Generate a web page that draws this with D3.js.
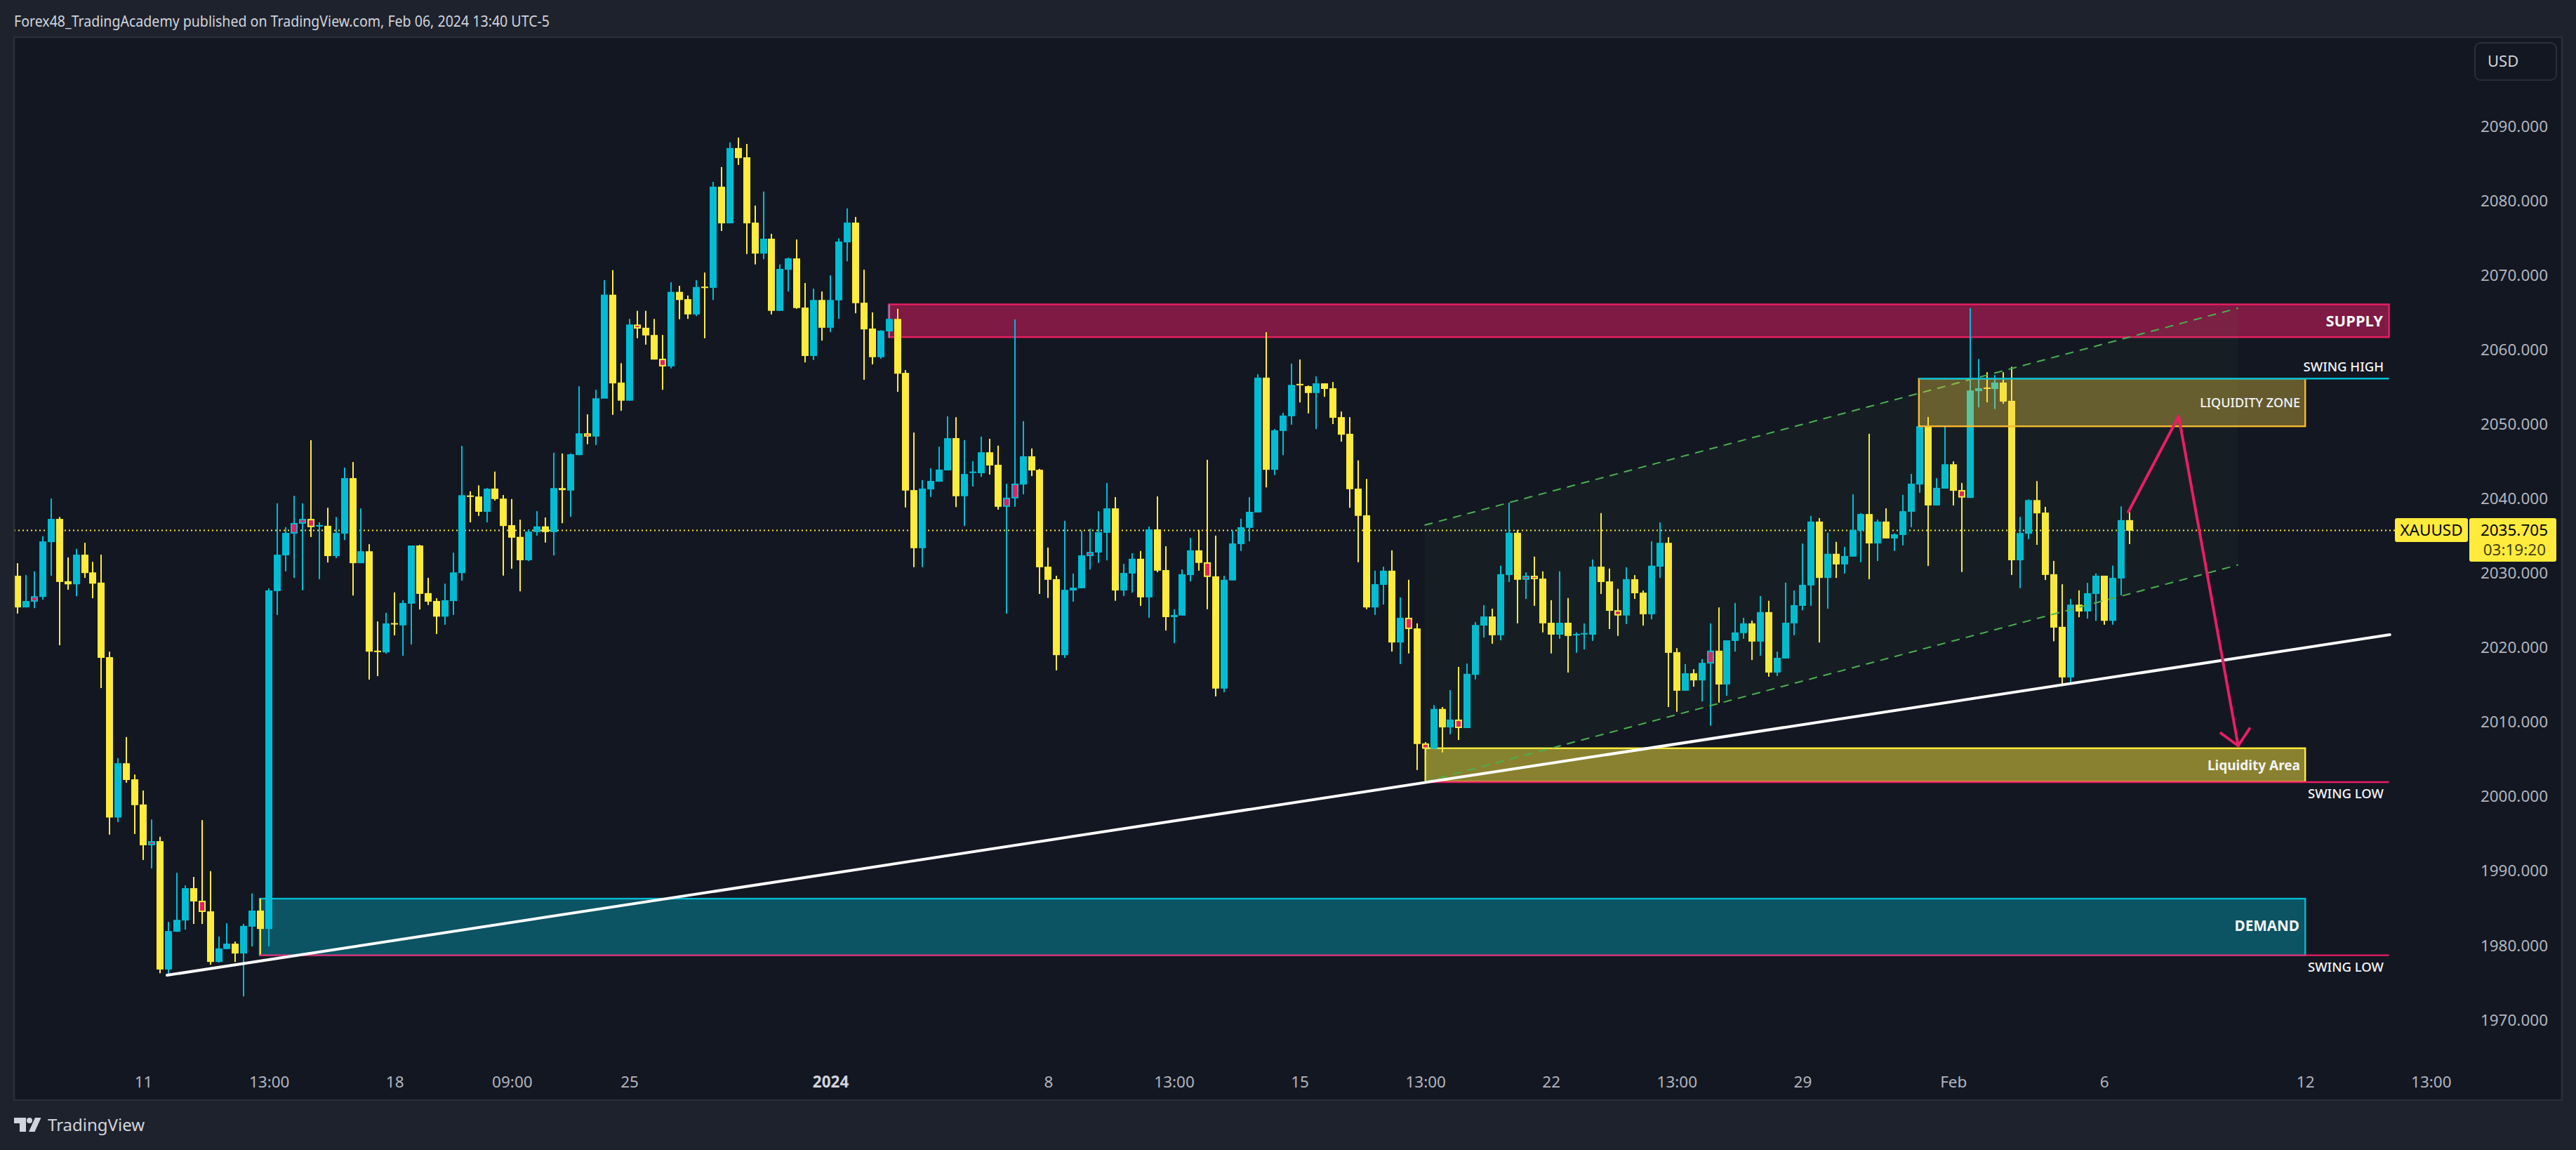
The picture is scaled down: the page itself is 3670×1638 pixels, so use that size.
<!DOCTYPE html>
<html>
<head>
<meta charset="utf-8">
<script src="https://cdn.jsdelivr.net/npm/d3@7.9.0/dist/d3.min.js"></script>
<style>
  html, body { margin: 0; padding: 0; background: #1e222d; }
  svg { display: block; }
  text { font-family: "Noto Sans", sans-serif; }
</style>
</head>
<body>
<script>
// 4h XAUUSD bars
const barOpen = [
  2029.66,2025.41,2026.18,2026.82,2034.18,2037.29,2028.92,2028.51,2032.49,2030.11,
  2028.74,2018.73,1997.2,2004.48,2002.33,1998.95,1993.47,1994.02,1976.79,1981.86,
  1983.37,1987.71,1986.02,1984.6,1977.8,1979.53,1980.26,1978.94,1982.55,1984.7,
  1982.23,2027.6,2032.4,2035.32,2036.65,2037.29,2036.37,2036.37,2032.3,2035.32,
  2042.77,2031.35,2032.95,2019.6,2019.37,2023.3,2023.0,2025.91,2033.72,2027.33,
  2026.27,2024.17,2026.27,2030.02,2040.44,2040.3,2038.25,2041.37,2040.02,2036.45,
  2034.88,2031.74,2035.53,2036.29,2035.53,2041.43,2041.1,2045.86,2048.78,2048.35,
  2053.44,2067.4,2055.6,2053.17,2063.39,2062.96,2061.99,2058.8,2057.77,2067.78,
  2066.8,2064.75,2068.48,2068.32,2081.9,2076.98,2087.09,2085.85,2077.08,2072.92,
  2074.92,2065.23,2070.75,2072.27,2065.67,2059.17,2066.69,2062.96,2066.64,2074.43,
  2077.08,2066.32,2062.85,2059.01,2062.47,2064.15,2056.9,2041.16,2033.36,2041.26,
  2042.29,2043.81,2048.14,2040.34,2043.48,2043.43,2046.24,2044.56,2038.92,2040.06,
  2041.91,2045.7,2043.89,2030.88,2029.2,2019.0,2027.68,2027.98,2032.31,2032.78,
  2035.43,2038.71,2027.68,2029.96,2031.94,2026.76,2035.89,2030.42,2024.11,2024.32,
  2029.75,2033.07,2031.47,2029.58,2014.51,2029.03,2033.91,2036.1,2038.16,2056.26,
  2043.89,2049.1,2051.08,2055.42,2055.12,2054.2,2055.5,2054.83,2050.96,2048.72,
  2041.36,2037.78,2025.41,2028.44,2030.34,2020.7,2024.02,2022.59,2007.15,2006.43,
  2011.78,2009.3,2010.35,2009.21,2016.36,2022.97,2024.19,2021.67,2029.75,2035.43,
  2029.12,2029.66,2029.28,2023.35,2021.75,2023.35,2021.71,2021.8,2021.75,2030.88,
  2028.9,2025.03,2024.32,2029.2,2027.39,2024.49,2030.88,2034.08,2019.4,2014.22,
  2016.57,2015.61,2017.88,2019.6,2015.06,2020.91,2021.96,2023.27,2020.82,2024.78,
  2016.66,2018.55,2023.27,2025.62,2028.36,2036.94,2029.37,2032.61,2031.18,2032.23,
  2035.72,2037.95,2034,2036.94,2034.67,2035.13,2038.25,2041.91,2049.73,2039.1,
  2041.36,2044.63,2041.17,2040.11,2054.45,2054.93,2054.73,2055.6,2053.15,2031.74,
  2035.3,2039.82,2038.14,2029.87,2022.8,2016.01,2025.78,2024.86,2027.22,2029.67,
  2023.61,2029.29,2037.13
];
const barHigh = [
  2031.35,2029.75,2030.25,2034.96,2040.03,2037.56,2032.12,2033.27,2034.09,2031.53,
  2032.49,2019.47,2005.17,2008.0,2002.97,2000.82,1996.94,1994.61,1983.19,1989.77,
  1988.08,1989.22,1996.85,1990,1981.22,1983,1980.54,1982.91,1987,1986.3,
  2027.97,2039.39,2036.19,2040.39,2039.39,2047.86,2036.83,2038.79,2037.56,2044.18,
  2044.93,2038.7,2033.9,2023.53,2024.68,2027.42,2026.37,2033.72,2033.81,2029.38,
  2026.64,2028.6,2032.76,2047.1,2041,2041.8,2041.44,2043.65,2040.5,2039.96,
  2037.2,2035.9,2038.34,2037.48,2046.19,2046.08,2046.08,2055.11,2051.33,2054.63,
  2069.35,2070.7,2058.2,2064.15,2065.23,2065.23,2064.15,2061.99,2069.07,2068.59,
  2067.29,2069.35,2070.37,2082.55,2084.55,2087.85,2088.5,2087.64,2079.36,2081.25,
  2075.57,2071.46,2072.38,2074.81,2068.97,2068.21,2067.83,2070,2074.97,2078.98,
  2077.84,2070.75,2065.02,2062.63,2066.05,2065.5,2057.28,2048.89,2042.51,2044.08,
  2047,2051.06,2050.95,2047.87,2045.05,2048.35,2048.05,2047.13,2042.03,2064.08,
  2050.41,2046.75,2044.01,2033.45,2029.66,2037.03,2029.96,2035.72,2035.97,2038.33,
  2042.12,2040.22,2031.26,2032.69,2032.99,2036.27,2040.31,2033.62,2025.16,2030.5,
  2034.75,2035.81,2045.23,2035.05,2029.66,2035.72,2037.32,2040.22,2056.72,2062.36,
  2049.36,2051.54,2058.15,2058.7,2055.21,2056.43,2055.5,2055.67,2051.71,2050.96,
  2045.15,2042.66,2030.34,2030.88,2033.07,2026.76,2029.12,2023.27,2007.32,2012.28,
  2012.03,2014.3,2017.42,2017.88,2023.43,2025.71,2025.24,2031.01,2039.47,2035.81,
  2030.13,2032.23,2030.25,2026.38,2030.25,2026.67,2022.05,2023.27,2031.85,2038.08,
  2030.63,2027.9,2030.8,2029.75,2027.68,2034.29,2036.82,2034.84,2019.94,2017.8,
  2017.12,2018.47,2023.27,2025.41,2020.99,2026,2024.02,2023.64,2026.93,2026.3,
  2019.48,2028.74,2027.68,2034,2037.7,2037.41,2035.43,2034.21,2033.53,2040.6,
  2038.08,2048.72,2037.2,2038.71,2035.34,2040.52,2043.34,2049.9,2050.98,2042.76,
  2049.7,2045.02,2042.13,2065.6,2058.77,2056.99,2056.61,2056.99,2057.72,2037.56,
  2039.92,2042.37,2038.91,2031.65,2028.52,2026.55,2027.7,2028.71,2029.96,2029.67,
  2031.02,2038.97,2038.24
];
const barLow = [
  2024.58,2025.41,2025.31,2026.46,2029.66,2020.33,2027.78,2026.91,2029.38,2026.64,
  2014.58,1994.89,1996.58,2001.87,1994.98,1991.5,1990.36,1976.29,1976.06,1981.86,
  1982.14,1982.91,1982.91,1977.43,1977.71,1979.53,1977.8,1973.18,1979.9,1978.66,
  1979.9,2024.4,2030.25,2029.38,2027.69,2034.86,2029.2,2031.44,2032.03,2034.45,
  2027,2031.35,2015.72,2016.18,2019.19,2021.66,2018.92,2020.43,2025.13,2025.73,
  2021.84,2023.08,2024.4,2029,2036.83,2037.7,2036.83,2039.75,2029.68,2030.6,
  2027.57,2031.63,2035.04,2034.12,2032.39,2036.72,2037.58,2045.86,2047.32,2047.21,
  2053.44,2051.27,2051.81,2053.17,2061.55,2060.69,2058.69,2054.63,2057.5,2064.1,
  2064.15,2064.53,2061.55,2066.69,2075.95,2076.98,2084.82,2072.86,2071.46,2072.16,
  2064.75,2065.23,2067.83,2065.5,2058.31,2058.63,2061.23,2062.37,2064.15,2071.89,
  2064.91,2055.98,2058.04,2058.8,2061.61,2054.36,2038.83,2030.82,2030.82,2040.24,
  2042.29,2043.81,2038.88,2036.34,2041.64,2042.94,2043.25,2038.54,2024.57,2038.92,
  2040.6,2043.04,2027.22,2026.67,2016.95,2018.64,2026.17,2027.98,2030.5,2031.39,
  2031.72,2026.3,2026.93,2027.39,2025.62,2024.02,2030.13,2022.3,2020.61,2024.32,
  2028.9,2030.34,2025.16,2013.46,2014.01,2029.03,2032.99,2034.29,2038.16,2041.53,
  2043.17,2045.86,2049.95,2052.93,2051.46,2049.36,2053.69,2050.03,2047.67,2038.79,
  2031.47,2025.16,2024.4,2025.79,2019.48,2017.8,2019.23,2003.57,2005.5,2006.43,
  2005.93,2008.37,2007.61,2009.21,2015.73,2021.37,2020.53,2020.99,2028.82,2023.27,
  2026.55,2025.62,2022.05,2019.23,2021.2,2016.66,2019.31,2019.77,2020.91,2027.22,
  2022.51,2021.58,2023.18,2026.55,2022.97,2023.81,2029.37,2012.03,2011.4,2014.22,
  2014.77,2012.79,2009.51,2012.62,2013.55,2019.48,2021.2,2018.34,2018.93,2016.11,
  2016.2,2018.55,2021.67,2025.03,2025.62,2020.7,2025.24,2029.37,2029.96,2032.23,
  2031.47,2029.2,2031.64,2034.67,2032.99,2033.74,2036.18,2040.81,2030.97,2039.1,
  2041.36,2039.1,2030.16,2040.11,2052.28,2052.95,2052.04,2052.76,2029.77,2028,
  2034.58,2033.81,2029.1,2020.87,2015.15,2015.34,2024.09,2023.9,2023.61,2023.08,
  2023.08,2027.03,2033.91
];
const barClose = [
  2025.41,2026.27,2026.91,2034.27,2037.29,2028.83,2028.51,2032.49,2030.02,2028.6,
  2018.64,1997.2,2004.48,2002.24,1998.86,1993.47,1994.02,1976.79,1981.96,1983.46,
  1987.71,1985.93,1984.51,1977.8,1979.62,1980.26,1978.94,1982.64,1984.7,1982.23,
  2027.69,2032.49,2035.41,2036.74,2037.29,2036.19,2036.46,2032.3,2035.41,2042.77,
  2031.35,2032.95,2019.47,2019.5,2023.26,2023.2,2026.0,2033.72,2027.23,2026.18,
  2024.17,2026.37,2030.11,2040.48,2040.3,2038.25,2041.35,2039.96,2036.34,2034.77,
  2031.74,2035.58,2036.29,2035.53,2041.43,2041.16,2045.97,2048.78,2048.35,2053.49,
  2067.4,2055.49,2053.17,2063.39,2062.85,2061.93,2058.69,2057.77,2067.78,2066.69,
  2064.75,2068.43,2068.32,2081.9,2076.98,2087.09,2085.74,2076.98,2072.92,2074.92,
  2065.23,2070.86,2072.27,2065.61,2059.17,2066.69,2062.96,2066.69,2074.54,2077.08,
  2066.26,2062.74,2059.01,2062.58,2064.15,2056.79,2041.1,2033.36,2041.37,2042.4,
  2043.92,2048.14,2040.34,2043.32,2043.65,2046.24,2044.47,2038.92,2040.14,2042.03,
  2045.7,2043.8,2030.8,2029.12,2019.0,2027.77,2028.06,2032.4,2032.86,2035.51,
  2038.71,2027.68,2030.04,2031.94,2026.76,2035.89,2030.34,2024.11,2024.4,2029.87,
  2033.07,2031.39,2029.5,2014.51,2029.12,2034,2036.18,2038.25,2056.26,2043.89,
  2049.19,2051.17,2055.29,2055.25,2054.2,2055.5,2054.74,2050.87,2048.6,2041.28,
  2037.7,2025.41,2028.53,2030.34,2020.7,2024.02,2022.51,2007.07,2006.43,2011.78,
  2009.3,2010.35,2009.21,2016.49,2023.05,2024.19,2021.67,2029.87,2035.43,2029.12,
  2029.66,2029.2,2023.27,2021.75,2023.35,2021.58,2021.84,2021.96,2030.88,2028.82,
  2024.95,2024.32,2029.2,2027.31,2024.49,2031.01,2034.08,2019.31,2014.22,2016.57,
  2015.61,2017.96,2019.6,2015.06,2020.99,2022.05,2023.27,2020.82,2024.78,2016.66,
  2018.64,2023.35,2025.71,2028.44,2036.94,2029.37,2032.61,2031.18,2032.31,2035.81,
  2037.95,2034,2036.94,2034.67,2035.22,2038.33,2042.03,2049.73,2039.1,2041.46,
  2044.63,2041.07,2040.16,2054.54,2054.83,2054.83,2055.6,2053.05,2031.74,2035.4,
  2039.82,2038.04,2029.77,2022.7,2016.01,2025.78,2024.86,2027.32,2029.67,2023.61,
  2029.38,2037.13,2035.705
];
// bars the publisher's script paints pink inside
const pinkBars = [2,16,22,33,34,35,68,74,77,118,119,128,142,166,168,172,180,181,191,202,232];

const priceTicks = [2090,2080,2070,2060,2050,2040,2030,2020,2010,2000,1990,1980,1970];
const timeTickBars = [15,30,45,59,73,97,123,138,153,168,183,198,213,231,249,273,288];
const timeTickLabels = ["11","13:00","18","09:00","25","2024","8","13:00","15","13:00","22","13:00","29","Feb","6","12","13:00"];

const lastPrice = 2035.705;
const symbolName = "XAUUSD";
const countdown = "03:19:20";
const titleText = "Forex48_TradingAcademy published on TradingView.com, Feb 06, 2024 13:40 UTC-5";

// zones: [first bar, last bar, top price, bottom price]
const supplyZone = [103.95, 283, 2066.1, 2061.7];
const demandZone = [28.9, 273, 1986.3, 1978.7];
const liquidityArea = [168, 273, 2006.5, 2002];
const liquidityZone = [226.9, 273, 2056.13, 2049.73];

// horizontal levels: [first bar, last bar, price]
const swingHigh = [226.9, 283, 2056.13];
const swingLowA = [168, 283, 2001.95];
const swingLowB = [28.9, 283, 1978.7];

// drawn lines as [bar, price] points
const trendLine = [[17.84,1976.02],[283.1,2021.75]];
const channelUpper = [[167.9,2036.45],[265,2065.6]];
const channelLower = [[167.9,2001.97],[265,2031.12]];
const forecastPath = [[251.9,2038.25],[257.9,2051.07],[265,2006.83]];
const arrowHead = [[262.95,2008.51],[265,2006.83],[266.35,2009.13]];

const W = 3670, H = 1638;
const pane = { left: 20, right: 3650, top: 53, bottom: 1567 };

const teal = "#00bcd4", yellow = "#ffeb3b", pink = "#e91e63", amber = "#f9b82d", axisGrey = "#b2b5be";

const x = d3.scaleLinear().domain([0, barClose.length - 1]).range([25, 3033.5]);
const y = d3.scaleLinear().domain([2000, 2090]).range([1134.7, 180]);

const svg = d3.select("body").append("svg").attr("width", W).attr("height", H);

svg.append("rect").attr("width", W).attr("height", H).attr("fill", "#1e222d");
svg.append("rect")
    .attr("x", pane.left).attr("y", pane.top)
    .attr("width", pane.right - pane.left).attr("height", pane.bottom - pane.top)
    .attr("fill", "#131722");

svg.append("clipPath").attr("id", "paneClip").append("rect")
    .attr("x", pane.left).attr("y", pane.top)
    .attr("width", pane.right - pane.left).attr("height", pane.bottom - pane.top);

const plot = svg.append("g").attr("clip-path", "url(#paneClip)");

function drawZone(zone, fill, stroke) {
    return plot.append("rect")
        .attr("x", x(zone[0]))
        .attr("y", y(zone[2]))
        .attr("width", x(zone[1]) - x(zone[0]))
        .attr("height", y(zone[3]) - y(zone[2]))
        .attr("fill", fill)
        .attr("stroke", stroke)
        .attr("stroke-width", 2.4);
}

function drawLevel(level, color) {
    plot.append("line")
        .attr("x1", x(level[0])).attr("x2", x(level[1]))
        .attr("y1", y(level[2])).attr("y2", y(level[2]))
        .attr("stroke", color).attr("stroke-width", 2.4);
}

const linePath = d3.line().x(d => x(d[0])).y(d => y(d[1]));

// last price dotted line
plot.append("line")
    .attr("x1", pane.left).attr("x2", 3412)
    .attr("y1", y(lastPrice) - 0.5).attr("y2", y(lastPrice) - 0.5)
    .attr("stroke", yellow).attr("stroke-width", 2).attr("stroke-dasharray", "2 4");

// zones that sit under the candles
drawZone(supplyZone, "rgba(233,30,99,0.5)", pink);
drawZone(demandZone, "rgba(0,188,212,0.37)", teal);
drawZone(liquidityArea, "rgba(255,235,59,0.5)", yellow);

// candles
const bars = barClose.map((c, i) => ({
    i,
    open: barOpen[i], high: barHigh[i], low: barLow[i], close: c,
    color: c > barOpen[i] ? teal : yellow,
    pink: pinkBars.includes(i)
}));

plot.selectAll(".wick")
    .data(bars)
    .enter().append("rect")
    .attr("class", "wick")
    .attr("x", d => Math.round(x(d.i)) - 1)
    .attr("width", 2)
    .attr("y", d => y(d.high))
    .attr("height", d => y(d.low) - y(d.high))
    .attr("fill", d => d.color);

plot.selectAll(".body")
    .data(bars)
    .enter().append("rect")
    .attr("class", "body")
    .attr("x", d => Math.round(x(d.i)) - 5)
    .attr("width", 10)
    .attr("y", d => y(Math.max(d.open, d.close)))
    .attr("height", d => Math.max(2, Math.abs(y(d.open) - y(d.close))))
    .attr("fill", d => d.color);

// pink inner part of the marked bars
plot.selectAll(".inner")
    .data(bars.filter(d => d.pink))
    .enter().append("rect")
    .attr("class", "inner")
    .attr("x", d => Math.round(x(d.i)) - 3)
    .attr("width", 6)
    .attr("y", d => y(Math.max(d.open, d.close)) + 2)
    .attr("height", d => Math.max(1, Math.abs(y(d.open) - y(d.close)) - 4))
    .attr("fill", pink);

// channel, drawn over the candles
const channelArea = channelUpper.concat(channelLower.slice().reverse());
plot.append("path")
    .attr("d", linePath(channelArea) + "Z")
    .attr("fill", "rgba(76,175,80,0.05)");
[channelUpper, channelLower].forEach(pts => {
    plot.append("path")
        .attr("d", linePath(pts))
        .attr("fill", "none")
        .attr("stroke", "#4caf50")
        .attr("stroke-width", 2)
        .attr("stroke-dasharray", "12 9");
});

drawZone(liquidityZone, "rgba(253,214,68,0.35)", amber);

drawLevel(swingHigh, teal);
drawLevel(swingLowA, pink);
drawLevel(swingLowB, pink);

// trend line
plot.append("path")
    .attr("d", linePath(trendLine))
    .attr("stroke", "#ffffff").attr("stroke-width", 4).attr("stroke-linecap", "round").attr("fill", "none");

// forecast arrow
[forecastPath, arrowHead].forEach(pts => {
    plot.append("path")
        .attr("d", linePath(pts))
        .attr("fill", "none")
        .attr("stroke", pink)
        .attr("stroke-width", 4)
        .attr("stroke-linecap", "round")
        .attr("stroke-linejoin", "round");
});

// zone and level labels
function zoneLabel(txt, right, cy, size, weight) {
    svg.append("text")
        .attr("x", right).attr("y", cy).attr("dy", "0.35em")
        .attr("text-anchor", "end")
        .attr("fill", "#f5f5f5")
        .attr("font-size", size)
        .attr("font-weight", weight)
        .text(txt);
}
zoneLabel("SUPPLY", 3395, y((supplyZone[2] + supplyZone[3]) / 2), 22, 700);
zoneLabel("DEMAND", 3276, y(demandZone[3]) - 42, 20.7, 700);
zoneLabel("LIQUIDITY ZONE", 3277, y((liquidityZone[2] + liquidityZone[3]) / 2), 18, 500);
zoneLabel("Liquidity Area", 3277, y((liquidityArea[2] + liquidityArea[3]) / 2) + 1, 19, 700);
zoneLabel("SWING HIGH", 3396, y(swingHigh[2]) - 17, 18.5, 500);
zoneLabel("SWING LOW", 3396, y(swingLowA[2]) + 17, 18.5, 500);
zoneLabel("SWING LOW", 3396, y(swingLowB[2]) + 17, 18.5, 500);

// pane border
svg.append("rect")
    .attr("x", pane.left).attr("y", pane.top)
    .attr("width", pane.right - pane.left).attr("height", pane.bottom - pane.top)
    .attr("fill", "none").attr("stroke", "#2a2e39").attr("stroke-width", 2.4);

// price scale
const yAxis = svg.append("g")
    .attr("transform", "translate(3630,0)")
    .call(d3.axisRight(y).tickValues(priceTicks).tickFormat(d3.format(".3f")).tickSize(0));
yAxis.select(".domain").remove();
yAxis.selectAll("text")
    .attr("x", 0)
    .attr("text-anchor", "end")
    .attr("fill", axisGrey)
    .style("font-family", '"Noto Sans", sans-serif')
    .style("font-size", "22.5px");

// time scale
const xAxis = svg.append("g")
    .attr("transform", "translate(0,1541)")
    .call(d3.axisBottom(x).tickValues(timeTickBars).tickFormat((d, i) => timeTickLabels[i]).tickSize(0));
xAxis.select(".domain").remove();
xAxis.selectAll("text")
    .attr("y", 0).attr("dy", "0.35em")
    .attr("fill", d => d === 97 ? "#d1d4dc" : axisGrey)
    .style("font-family", '"Noto Sans", sans-serif')
    .style("font-size", "22.5px")
    .style("font-weight", d => d === 97 ? 700 : 400);

// currency button
svg.append("rect")
    .attr("x", 3526).attr("y", 61).attr("width", 116).attr("height", 53).attr("rx", 8)
    .attr("fill", "#131722").attr("stroke", "#2a2e39").attr("stroke-width", 2);
svg.append("text")
    .attr("x", 3544).attr("y", 87).attr("dy", "0.35em")
    .attr("fill", "#d1d4dc").attr("font-size", 22).text("USD");

// last price labels
svg.append("rect").attr("x", 3412).attr("y", 738).attr("width", 104).attr("height", 34).attr("rx", 3).attr("fill", yellow);
svg.append("rect").attr("x", 3518).attr("y", 738).attr("width", 124).attr("height", 62).attr("rx", 3).attr("fill", yellow);
svg.append("text")
    .attr("x", 3464).attr("y", 755).attr("dy", "0.35em").attr("text-anchor", "middle")
    .attr("fill", "#000").attr("font-size", 22.5).text(symbolName);
svg.append("text")
    .attr("x", 3630).attr("y", 755).attr("dy", "0.35em").attr("text-anchor", "end")
    .attr("fill", "#000").attr("font-size", 22.5).text(d3.format(".3f")(lastPrice));
svg.append("text")
    .attr("x", 3627).attr("y", 783).attr("dy", "0.35em").attr("text-anchor", "end")
    .attr("fill", "#000").attr("fill-opacity", 0.75).attr("font-size", 22.5).text(countdown);

// header and footer
svg.append("text")
    .attr("x", 20).attr("y", 31).attr("dy", "0.35em")
    .attr("fill", "#d1d4dc").attr("font-size", 21)
    .attr("textLength", 763).attr("lengthAdjust", "spacingAndGlyphs")
    .text(titleText);

const logo = svg.append("g").attr("transform", "translate(20,1592)").attr("fill", "#d1d4dc");
logo.append("path").attr("d", "M0 0H17V20H8V8H0Z");
logo.append("circle").attr("cx", 22).attr("cy", 4).attr("r", 4);
logo.append("path").attr("d", "M30 0H38.5L29.5 20H21Z");
svg.append("text")
    .attr("x", 68).attr("y", 1603).attr("dy", "0.35em")
    .attr("fill", "#d1d4dc").attr("font-size", 24).text("TradingView");
</script>
</body>
</html>
